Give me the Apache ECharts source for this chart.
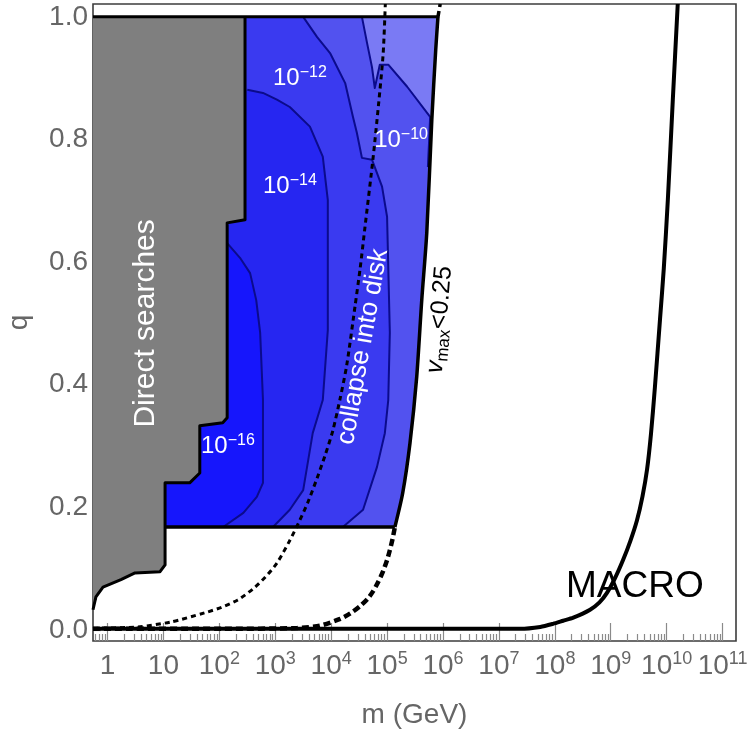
<!DOCTYPE html>
<html><head><meta charset="utf-8">
<script src="https://cdn.jsdelivr.net/npm/echarts@6/dist/echarts.min.js"></script>
<style>html,body{margin:0;padding:0;background:#fff}#c{width:750px;height:736px}</style>
</head><body><div id="c"></div>
<script>
// ---------- axis ticks ----------
const xMajorTicks = [1, 10, 1e2, 1e3, 1e4, 1e5, 1e6, 1e7, 1e8, 1e9, 1e10, 1e11];
const yMajorTicks = [0, 0.2, 0.4, 0.6, 0.8, 1.0];
const X_MIN = 0.55, X_MAX = 1.74e11, Y_MIN = -0.018, Y_MAX = 1.021;

// ---------- data: [m (GeV), q] ----------
const directSearchBoundary = [
  [0.55, 0.033], [0.62, 0.054], [0.83, 0.070], [1.74, 0.082], [3.1, 0.093], [8.7, 0.095],
  [10.7, 0.106], [10.7, 0.240], [29.5, 0.240], [44.7, 0.256], [44.7, 0.333], [115, 0.338],
  [138, 0.346], [138, 0.664], [288, 0.669], [288, 1.0]
];
const regionBottomQ = 0.168;
const regionBottomLeftM = 10.7;
const regionTopQ = 1.0;

const vmaxSolid = [
  [138000, 0.168], [190000, 0.223], [257000, 0.305], [339000, 0.413], [417000, 0.538],
  [513000, 0.648], [631000, 0.832], [741000, 0.946], [813000, 1.0]
];
const vmaxDashedLow = [
  [0.55, 0.002], [117, 0.002], [2450, 0.003], [6300, 0.007], [14500, 0.018], [22000, 0.027],
  [33000, 0.039], [45000, 0.051], [56000, 0.063], [70000, 0.079], [85000, 0.096],
  [100000, 0.114], [112000, 0.130], [125000, 0.148], [138000, 0.168]
];
const vmaxDashedTop = [[813000, 1.0], [891000, 1.021]];

const collapseDisk = [
  [0.55, 0.002], [0.68, 0.003], [3.5, 0.005], [13.5, 0.013], [55, 0.028], [110, 0.037],
  [214, 0.049], [400, 0.067], [660, 0.086], [1070, 0.109], [1820, 0.146], [2750, 0.179],
  [3900, 0.210], [5620, 0.248], [7800, 0.285], [10700, 0.325], [14500, 0.378], [19000, 0.432],
  [26900, 0.530], [33000, 0.590], [40000, 0.655], [56200, 0.770], [70000, 0.855],
  [85100, 0.940], [93000, 1.021]
];

const macro = [
  [0.55, 0.002], [2.4e7, 0.002], [5.5e7, 0.005], [9.3e7, 0.010], [1.41e8, 0.015], [2.14e8, 0.020],
  [4.27e8, 0.033], [6.3e8, 0.045], [8.5e8, 0.060], [1.2e9, 0.085], [1.66e9, 0.114],
  [2.24e9, 0.145], [2.95e9, 0.179], [3.7e9, 0.218], [4.47e9, 0.262], [5.25e9, 0.320],
  [6.17e9, 0.396], [7.6e9, 0.506], [8.9e9, 0.590], [1.05e10, 0.701], [1.29e10, 0.865], [1.58e10, 1.021]
];

// contour lines (levels 1e-16|1e-14, 1e-14|1e-12, 1e-12|1e-10, 1e-10|lighter)
const contour16 = [
  [138, 0.631], [234, 0.607], [355, 0.582], [457, 0.538], [537, 0.485], [603, 0.375],
  [603, 0.240], [468, 0.217], [269, 0.191], [117, 0.168]
];
const contour14 = [
  [316, 0.881], [603, 0.876], [1070, 0.865], [1820, 0.853], [4170, 0.821], [7080, 0.772],
  [8710, 0.701], [8710, 0.489], [7080, 0.375], [4680, 0.321], [3160, 0.228], [1820, 0.196], [912, 0.168]
];
const contour12 = [
  [3160, 1.0], [5620, 0.967], [9550, 0.941], [17800, 0.892], [24500, 0.837], [28800, 0.811],
  [35500, 0.770], [53700, 0.767], [81300, 0.723], [100000, 0.674], [105000, 0.592], [112000, 0.485],
  [105000, 0.375], [91200, 0.321], [66100, 0.266], [37200, 0.196], [16200, 0.168]
];
const contour10 = [
  [35500, 1.0], [43700, 0.958], [53700, 0.918], [60300, 0.884], [74100, 0.922], [105000, 0.922],
  [229000, 0.886], [589000, 0.837], [562000, 0.794], [537000, 0.755]
];

// annotation texts and their anchor (data coords)
const labelTexts = ['Direct searches', 'collapse into disk', '{i|v}{sub|max}{n|<0.25}', 'MACRO',
  '10{s|\u221212}', '10{s|\u221210}', '10{s|\u221214}', '10{s|\u221216}'];
const labelAnchors = [[4.86, 0.500], [37000, 0.462], [8.7e5, 0.506], [2.7e9, 0.070],
  [2760, 0.900], [1.78e5, 0.799], [1830, 0.723], [142, 0.299]];

// ---------- styling ----------
const FONT = 'Liberation Sans, Arial, Helvetica, sans-serif';
const GRAY_TXT = '#666666';
const TICK = '#8a8a8a';
const BANDS = { E: '#7a7af4', D: '#5252ef', C: '#3a3af0', B: '#2626f1', A: '#1616fc' };
const CONTOUR_COLOR = '#0b0b8c';

const xMinorTicks = [];
for (let k = -1; k <= 11; k++) for (let j = 2; j <= 9; j++) {
  const v = j * Math.pow(10, k);
  if (v > X_MIN && v < X_MAX) xMinorTicks.push(v);
}
const yMinorTicks = [];
for (let i = 0; i <= 20; i++) if (i % 4 !== 0) yMinorTicks.push(+(i * 0.05).toFixed(2));

// ---------- polygons built from the arrays ----------
const leftM = X_MIN;
const basePoly = [[leftM, regionBottomQ], [leftM, regionTopQ]].concat(vmaxSolid.slice().reverse());
const lastC10 = contour10[contour10.length - 1];
const bandDPoly = contour10.concat(vmaxSolid.filter(p => p[1] < lastC10[1]).reverse())
  .concat([[leftM, regionBottomQ], [leftM, regionTopQ]]);
const bandCPoly = contour12.concat([[leftM, regionBottomQ], [leftM, regionTopQ]]);
const bandBPoly = contour14.concat([[leftM, regionBottomQ], [leftM, contour14[0][1]]]);
const bandAPoly = contour16.concat([[leftM, regionBottomQ], [leftM, contour16[0][1]]]);
const grayPoly = directSearchBoundary.concat([[leftM, regionTopQ]]);

function polySeries(points, color, z) {
  return {
    type: 'custom', coordinateSystem: 'cartesian2d', silent: true, z: z, clip: true,
    data: [points[0]],
    renderItem: function (params, api) {
      return { type: 'polygon', shape: { points: points.map(p => api.coord(p)) }, style: { fill: color } };
    }
  };
}
function lineSeries(points, color, width, type, z, smooth) {
  return {
    type: 'line', data: points, showSymbol: false, symbol: 'none', silent: true, z: z,
    smooth: smooth ? 0.25 : false,
    lineStyle: { color: color, width: width, type: type, cap: 'butt', join: 'round' },
    clip: true
  };
}

const white = '#ffffff';
const annoStyles = [
  { rotate: 90, fontSize: 30, color: white },
  { rotate: 80, fontSize: 26, color: white },
  { rotate: 85, color: '#000', rich: {
      i: { fontSize: 25, fontStyle: 'italic', color: '#000', fontFamily: FONT, lineHeight: 30 },
      sub: { fontSize: 17, color: '#000', fontFamily: FONT, lineHeight: 15, verticalAlign: 'bottom' },
      n: { fontSize: 25, color: '#000', fontFamily: FONT, lineHeight: 30 } } },
  { rotate: 0, fontSize: 37, color: '#000' },
];
const supRich = { s: { fontSize: 16, color: white, fontFamily: FONT, lineHeight: 14, verticalAlign: 'top' } };
const annoData = labelTexts.map((t, i) => {
  const st = annoStyles[i] || { rotate: 0, fontSize: 24, color: white, lineHeight: 28, rich: supRich };
  return {
    value: labelAnchors[i],
    label: Object.assign({ show: true, position: 'inside', formatter: t, fontFamily: FONT, opacity: 1,
      textBorderWidth: 0 }, st)
  };
});

const series = [
  polySeries(basePoly, BANDS.E, 1),
  polySeries(bandDPoly, BANDS.D, 2),
  polySeries(bandCPoly, BANDS.C, 3),
  polySeries(bandBPoly, BANDS.B, 4),
  polySeries(bandAPoly, BANDS.A, 5),
  polySeries(grayPoly, '#7f7f7f', 6),
  lineSeries(contour16, CONTOUR_COLOR, 2, 'solid', 7, false),
  lineSeries(contour14, CONTOUR_COLOR, 2, 'solid', 7, false),
  lineSeries(contour12, CONTOUR_COLOR, 2, 'solid', 7, false),
  lineSeries(contour10, CONTOUR_COLOR, 2, 'solid', 7, false),
  lineSeries(directSearchBoundary, '#000', 3, 'solid', 8, false),
  lineSeries([[leftM, regionTopQ], [vmaxSolid[vmaxSolid.length - 1][0], regionTopQ]], '#000', 3, 'solid', 8, false),
  lineSeries([[regionBottomLeftM, regionBottomQ], [vmaxSolid[0][0], regionBottomQ]], '#000', 3.5, 'solid', 8, false),
  lineSeries(vmaxSolid, '#000', 3.5, 'solid', 8, true),
  lineSeries(vmaxDashedLow, '#000', 4.5, [7, 4], 8, true),
  lineSeries(vmaxDashedTop, '#000', 3.5, [6, 4], 8, false),
  lineSeries(collapseDisk, '#000', 3, [5, 4], 8, true),
  lineSeries(macro, '#000', 4, 'solid', 8, true),
  {
    type: 'scatter', data: annoData, symbolSize: 1, silent: true, z: 10,
    itemStyle: { color: 'rgba(0,0,0,0)', opacity: 1 }
  }
];

const chart = echarts.init(document.getElementById('c'), null, { renderer: 'canvas' });
chart.setOption({
  animation: false,
  backgroundColor: '#fff',
  grid: { left: 93, right: 14, top: 4, bottom: 95, show: true, borderColor: '#3c3c3c', borderWidth: 1.6,
    containLabel: false, outerBoundsMode: 'none' },
  xAxis: [{
    type: 'log', logBase: 10, min: X_MIN, max: X_MAX, position: 'bottom',
    axisLine: { show: false, onZero: false }, splitLine: { show: false }, minorTick: { show: false },
    axisTick: { show: true, inside: true, length: 18, customValues: xMajorTicks, lineStyle: { color: TICK, width: 1.2 } },
    axisLabel: {
      customValues: xMajorTicks, margin: 9, fontSize: 28, lineHeight: 32, color: GRAY_TXT, fontFamily: FONT,
      hideOverlap: false,
      formatter: function (v) {
        const e = Math.round(Math.log10(v));
        return e === 0 ? '1' : e === 1 ? '10' : '10{sup|' + e + '}';
      },
      rich: { sup: { fontSize: 18, lineHeight: 16, verticalAlign: 'top', color: GRAY_TXT, fontFamily: FONT } }
    },
    name: 'm (GeV)', nameLocation: 'middle', nameGap: 60,
    nameTextStyle: { fontSize: 28, color: GRAY_TXT, fontFamily: FONT }
  }, {
    type: 'log', logBase: 10, min: X_MIN, max: X_MAX, position: 'bottom',
    axisLine: { show: false, onZero: false }, splitLine: { show: false }, axisLabel: { show: false },
    axisTick: { show: true, inside: true, length: 7, customValues: xMinorTicks, lineStyle: { color: TICK, width: 1.2 } }
  }],
  yAxis: [{
    type: 'value', min: Y_MIN, max: Y_MAX, position: 'left',
    axisLine: { show: false, onZero: false }, splitLine: { show: false },
    axisTick: { show: true, inside: true, length: 8, customValues: yMajorTicks, lineStyle: { color: TICK, width: 1.2 } },
    axisLabel: { customValues: yMajorTicks, margin: 5, fontSize: 28, color: GRAY_TXT, fontFamily: FONT,
      formatter: v => (+v).toFixed(1) },
    name: 'q', nameLocation: 'middle', nameGap: 60,
    nameTextStyle: { fontSize: 28, color: GRAY_TXT, fontFamily: FONT }
  }, {
    type: 'value', min: Y_MIN, max: Y_MAX, position: 'left',
    axisLine: { show: false, onZero: false }, splitLine: { show: false }, axisLabel: { show: false },
    axisTick: { show: true, inside: true, length: 4, customValues: yMinorTicks, lineStyle: { color: TICK, width: 1.2 } }
  }],
  series: series
});
</script></body></html>
